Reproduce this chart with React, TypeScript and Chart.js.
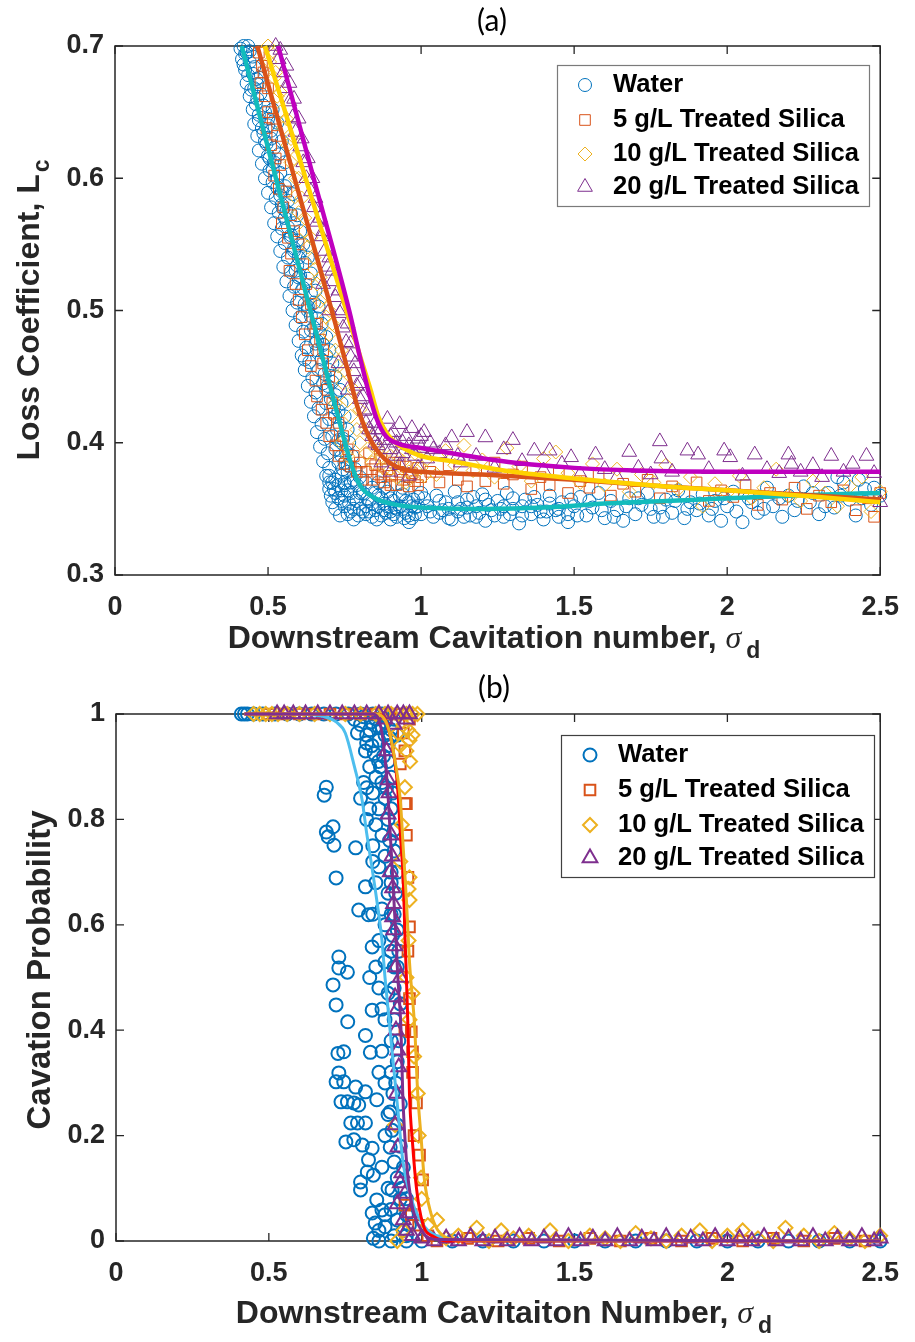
import React, { useEffect, useRef } from 'react';
import { Chart, registerables } from 'chart.js';
import { drawPoint } from 'chart.js/helpers';

Chart.register(...registerables);

type P = [number, number];

const seriesNames = ['Water', '5 g/L Treated Silica', '10 g/L Treated Silica', '20 g/L Treated Silica'];

const xTickValues = [0, 0.5, 1, 1.5, 2, 2.5];
const topYTickValues = [0.3, 0.4, 0.5, 0.6, 0.7];
const bottomYTickValues = [0, 0.2, 0.4, 0.6, 0.8, 1];

// ---------- (a) Loss coefficient ----------
const topWater: P[] = [
  [0.41,0.698],[0.42,0.700],[0.435,0.700],[0.43,0.695],[0.415,0.690],[0.45,0.692],[0.44,0.688],[0.425,0.682],[0.45,0.679],
  [0.47,0.676],[0.462,0.675],[0.43,0.672],[0.455,0.668],[0.44,0.662],[0.465,0.660],[0.485,0.655],[0.45,0.652],[0.47,0.648],
  [0.455,0.641],[0.50,0.640],[0.48,0.638],[0.465,0.632],[0.51,0.630],[0.49,0.628],[0.47,0.621],[0.50,0.617],[0.52,0.612],
  [0.48,0.611],[0.505,0.606],[0.49,0.600],[0.53,0.600],[0.515,0.597],[0.545,0.590],[0.50,0.589],[0.525,0.585],[0.545,0.580],
  [0.51,0.578],[0.56,0.575],[0.535,0.574],[0.555,0.570],[0.52,0.566],[0.545,0.562],[0.575,0.555],[0.53,0.556],[0.555,0.551],
  [0.585,0.545],[0.54,0.545],[0.60,0.540],[0.565,0.540],[0.55,0.533],[0.59,0.530],[0.575,0.529],[0.60,0.525],[0.56,0.522],
  [0.585,0.518],[0.61,0.515],[0.57,0.511],[0.595,0.506],[0.62,0.505],[0.63,0.500],[0.58,0.500],[0.605,0.495],[0.59,0.489],
  [0.64,0.485],[0.615,0.484],[0.60,0.477],[0.655,0.475],[0.625,0.472],[0.66,0.470],[0.61,0.466],[0.62,0.463],[0.635,0.461],
  [0.665,0.455],[0.62,0.455],[0.645,0.449],[0.68,0.445],[0.63,0.443],[0.69,0.440],[0.655,0.438],[0.64,0.431],[0.69,0.430],
  [0.665,0.426],[0.65,0.420],[0.72,0.420],[0.70,0.418],[0.675,0.414],[0.66,0.408],[0.71,0.405],[0.685,0.403],[0.74,0.400],
  [0.67,0.397],[0.72,0.395],[0.695,0.392],[0.68,0.386],[0.75,0.385],[0.73,0.385],[0.70,0.381],[0.69,0.375],[0.74,0.375],
  [0.71,0.370],[0.70,0.365],[0.72,0.362],[0.76,0.378],[0.78,0.372],
  [0.44,0.696],[0.425,0.694],[0.455,0.684],[0.42,0.686],[0.465,0.671],[0.435,0.678],[0.475,0.664],[0.445,0.667],[0.49,0.650],
  [0.46,0.656],[0.5,0.645],[0.47,0.644],[0.51,0.636],[0.485,0.634],[0.52,0.623],[0.495,0.626],[0.535,0.618],[0.505,0.615],
  [0.54,0.604],[0.515,0.607],[0.555,0.594],[0.53,0.593],[0.565,0.583],[0.54,0.587],[0.575,0.573],[0.55,0.577],[0.585,0.566],
  [0.565,0.563],[0.595,0.553],[0.575,0.557],[0.605,0.544],[0.585,0.547],[0.62,0.536],[0.595,0.534],[0.63,0.524],[0.605,0.526],
  [0.64,0.513],[0.615,0.517],[0.65,0.506],[0.63,0.503],[0.66,0.494],[0.64,0.496],[0.67,0.483],[0.65,0.487],[0.68,0.474],
  [0.66,0.477],[0.69,0.466],[0.675,0.463],[0.70,0.455],[0.685,0.452],[0.71,0.446],[0.695,0.443],[0.72,0.436],[0.705,0.433],
  [0.73,0.424],[0.715,0.427],[0.735,0.413],[0.725,0.41],[0.745,0.403],[0.73,0.402],[0.755,0.393],[0.74,0.39],[0.76,0.383],
  [0.745,0.38],[0.77,0.37],[0.75,0.368],
  [0.515,0.652],[0.53,0.642],[0.545,0.628],[0.555,0.612],[0.57,0.598],[0.58,0.588],[0.595,0.572],[0.605,0.56],[0.615,0.55],
  [0.63,0.54],[0.64,0.528],[0.655,0.515],[0.665,0.503],[0.675,0.49],[0.69,0.48],[0.70,0.47],[0.71,0.46],[0.72,0.45],
  [0.735,0.44],[0.74,0.43],[0.75,0.42],[0.76,0.41],[0.765,0.4],[0.775,0.39],[0.785,0.38],
  [0.70,0.370],[0.71,0.355],[0.72,0.350],[0.73,0.368],[0.74,0.356],[0.75,0.352],[0.76,0.364],[0.77,0.348],[0.78,0.358],
  [0.79,0.368],[0.80,0.350],[0.81,0.362],[0.82,0.346],[0.83,0.356],[0.84,0.366],[0.85,0.349],[0.86,0.360],[0.87,0.345],
  [0.88,0.354],[0.89,0.363],[0.90,0.348],[0.91,0.356],[0.92,0.344],[0.93,0.352],[0.94,0.361],[0.95,0.347],[0.96,0.355],
  [0.97,0.343],[0.98,0.351],[0.99,0.359],[1.00,0.346],[0.735,0.345],[0.765,0.354],[0.795,0.345],[0.825,0.358],[0.855,0.342],
  [0.885,0.347],[0.915,0.351],[0.945,0.343],[0.975,0.357],[0.80,0.374],[0.86,0.370],
  [0.72,0.372],[0.705,0.36],[0.715,0.365],[0.73,0.358],[0.74,0.364],[0.75,0.36],[0.76,0.346],[0.77,0.362],[0.78,0.35],
  [0.79,0.356],[0.80,0.362],[0.81,0.348],[0.82,0.352],[0.83,0.348],[0.84,0.354],[0.85,0.362],[0.86,0.352],[0.87,0.358],
  [0.88,0.349],[0.89,0.352],[0.90,0.358],[0.91,0.346],[0.92,0.35],[0.93,0.36],[0.94,0.35],[0.95,0.356],[0.96,0.345],
  [0.97,0.352],[0.98,0.346],[0.99,0.352],[0.78,0.342],[0.84,0.344],[0.90,0.342],[0.96,0.34],[0.82,0.37],[0.88,0.366],
  [0.94,0.366],[1.0,0.362],[0.75,0.37],[0.7,0.375],
  [1.01,0.358],[1.02,0.352],[1.04,0.344],[1.05,0.360],[1.06,0.347],[1.07,0.349],[1.08,0.355],[1.09,0.350],[1.10,0.342],
  [1.11,0.363],[1.12,0.355],[1.13,0.350],[1.14,0.344],[1.15,0.357],[1.16,0.345],[1.17,0.359],[1.18,0.352],[1.19,0.347],
  [1.20,0.361],[1.21,0.341],[1.22,0.353],[1.23,0.349],[1.25,0.356],[1.26,0.350],[1.27,0.344],[1.28,0.362],[1.29,0.346],
  [1.30,0.350],[1.32,0.339],[1.33,0.352],[1.34,0.357],[1.36,0.346],[1.37,0.359],[1.38,0.353],[1.40,0.342],[1.41,0.348],
  [1.42,0.360],[1.44,0.349],[1.45,0.344],[1.46,0.355],[1.48,0.340],[1.49,0.357],[1.50,0.352],[1.52,0.359],[1.54,0.345],
  [1.56,0.351],[1.58,0.362],[1.60,0.343],[1.62,0.356],[1.64,0.349],[1.66,0.341],[1.68,0.358],[1.70,0.346],[1.72,0.353],
  [1.74,0.362],[1.76,0.344],[1.78,0.351],[1.80,0.357],[1.82,0.347],[1.84,0.364],[1.86,0.343],[1.88,0.355],[1.90,0.349],
  [1.92,0.361],[1.94,0.345],[1.96,0.356],[1.98,0.341],[2.00,0.352],[2.02,0.363],[2.05,0.340],[2.07,0.358],[2.10,0.347],
  [2.13,0.366],[2.15,0.352],[2.18,0.344],[2.20,0.360],[2.22,0.349],[2.25,0.367],[2.27,0.355],[2.30,0.346],[2.33,0.362],
  [2.35,0.351],[2.36,0.374],[2.38,0.370],[2.40,0.357],[2.42,0.345],[2.43,0.372],[2.45,0.365],[2.47,0.353],[2.50,0.360],
  [1.03,0.348],[1.06,0.356],[1.09,0.343],[1.12,0.348],[1.15,0.351],[1.18,0.344],[1.21,0.357],[1.24,0.345],[1.27,0.352],
  [1.3,0.358],[1.33,0.345],[1.36,0.352],[1.39,0.348],[1.42,0.354],[1.45,0.35],[1.48,0.346],[1.51,0.345],[1.55,0.356],
  [1.59,0.349],[1.63,0.344],[1.67,0.352],[1.71,0.358],[1.75,0.35],[1.79,0.344],[1.83,0.356],[1.87,0.35],[1.91,0.354],
  [1.95,0.35],[1.99,0.358],[2.03,0.348],[2.08,0.355],[2.12,0.35],[2.17,0.358],[2.23,0.356],[2.28,0.362],[2.32,0.352],
  [2.37,0.36],[2.44,0.358],[2.48,0.366]
];

const topSilica5: P[] = [
  [0.47,0.695],[0.48,0.685],[0.475,0.672],[0.49,0.662],[0.50,0.650],[0.495,0.638],[0.51,0.625],[0.525,0.615],[0.52,0.602],
  [0.535,0.592],[0.55,0.578],[0.545,0.566],[0.565,0.555],[0.575,0.543],[0.57,0.530],[0.59,0.520],[0.60,0.508],[0.61,0.495],
  [0.62,0.482],[0.66,0.490],[0.63,0.470],[0.68,0.470],[0.64,0.458],[0.70,0.450],[0.655,0.447],[0.66,0.435],[0.715,0.422],
  [0.675,0.425],[0.69,0.415],[0.70,0.405],[0.72,0.398],[0.73,0.390],[0.75,0.384],[0.77,0.382],
  [0.485,0.680],[0.50,0.668],[0.515,0.645],[0.53,0.632],[0.54,0.61],[0.56,0.59],[0.575,0.572],[0.585,0.56],[0.60,0.55],
  [0.615,0.535],[0.625,0.52],[0.64,0.505],[0.655,0.49],[0.67,0.478],[0.68,0.46],[0.695,0.44],[0.71,0.43],[0.73,0.415],
  [0.745,0.405],[0.76,0.395],[0.79,0.378],[0.81,0.372],[0.84,0.38],[0.87,0.374],[0.9,0.368],[0.93,0.385],[0.96,0.374],
  [0.99,0.368],
  [0.78,0.390],[0.80,0.385],[0.82,0.378],[0.83,0.392],[0.84,0.372],[0.85,0.383],[0.86,0.376],[0.87,0.388],[0.88,0.370],
  [0.89,0.380],[0.90,0.375],[0.91,0.385],[0.92,0.368],[0.93,0.378],[0.94,0.372],[0.95,0.382],[0.96,0.367],[0.97,0.377],
  [0.98,0.371],[0.99,0.381],[1.00,0.374],
  [1.03,0.378],[1.06,0.370],[1.09,0.383],[1.12,0.372],[1.15,0.367],[1.18,0.379],[1.21,0.371],[1.24,0.385],[1.27,0.369],
  [1.30,0.376],[1.33,0.382],[1.36,0.365],[1.39,0.374],[1.42,0.368],[1.45,0.378],[1.48,0.362],[1.52,0.371],[1.55,0.366],
  [1.58,0.375],[1.62,0.360],[1.66,0.369],[1.70,0.363],[1.74,0.372],[1.78,0.358],[1.82,0.367],[1.86,0.361],[1.90,0.370],
  [1.94,0.356],[1.98,0.364],[2.02,0.359],[2.06,0.368],[2.10,0.353],[2.14,0.362],[2.18,0.357],[2.22,0.366],[2.26,0.350],
  [2.30,0.360],[2.34,0.355],[2.38,0.364],[2.42,0.349],[2.46,0.358],[2.48,0.344],[2.50,0.362]
];

const topSilica10: P[] = [
  [0.50,0.700],[0.505,0.688],[0.52,0.676],[0.53,0.662],[0.54,0.650],[0.55,0.638],[0.565,0.625],[0.575,0.612],[0.59,0.600],
  [0.588,0.586],[0.60,0.574],[0.62,0.560],[0.63,0.548],[0.652,0.531],[0.66,0.520],[0.67,0.507],[0.69,0.495],[0.70,0.482],
  [0.72,0.470],[0.73,0.458],[0.745,0.445],[0.76,0.432],[0.72,0.430],[0.77,0.420],[0.79,0.410],[0.74,0.400],[0.80,0.400],
  [0.76,0.390],[0.82,0.392],[0.84,0.385],
  [0.51,0.695],[0.525,0.68],[0.54,0.665],[0.56,0.645],[0.575,0.63],[0.585,0.615],[0.6,0.6],[0.61,0.585],[0.62,0.57],
  [0.64,0.555],[0.65,0.54],[0.67,0.525],[0.68,0.51],[0.7,0.5],[0.71,0.49],[0.74,0.47],[0.75,0.455],[0.78,0.44],[0.80,0.425],
  [0.82,0.41],[0.85,0.4],[0.87,0.39],[0.9,0.38],[0.92,0.39],[0.95,0.37],[0.98,0.38],[1.01,0.375],
  [0.86,0.395],[0.88,0.380],[0.90,0.390],[0.92,0.374],[0.94,0.386],[0.96,0.378],[0.98,0.392],[1.00,0.381],[1.02,0.388],
  [1.05,0.376],[1.08,0.394],[1.11,0.383],[1.14,0.398],[1.17,0.379],[1.20,0.387],[1.24,0.374],[1.28,0.396],[1.32,0.382],
  [1.36,0.371],[1.40,0.388],[1.44,0.393],[1.48,0.377],[1.52,0.370],[1.56,0.384],[1.60,0.368],[1.64,0.380],[1.68,0.363],
  [1.72,0.376],[1.76,0.370],[1.80,0.383],[1.84,0.365],[1.88,0.374],[1.92,0.352],[1.96,0.369],[2.00,0.362],[2.04,0.375],
  [2.08,0.358],[2.12,0.366],[2.16,0.380],[2.20,0.360],[2.24,0.356],[2.28,0.371],[2.32,0.362],[2.36,0.352],[2.40,0.367],
  [2.44,0.374],[2.47,0.348],[2.50,0.363]
];

const topSilica20: P[] = [
  [0.525,0.700],[0.535,0.690],[0.55,0.680],[0.555,0.668],[0.57,0.658],[0.58,0.646],[0.59,0.635],[0.605,0.624],[0.615,0.612],
  [0.625,0.600],[0.64,0.590],[0.65,0.578],[0.66,0.567],[0.675,0.556],[0.685,0.545],[0.695,0.533],[0.68,0.520],[0.71,0.522],
  [0.72,0.510],[0.70,0.500],[0.735,0.498],[0.745,0.487],[0.755,0.476],[0.77,0.465],[0.73,0.460],[0.78,0.454],[0.79,0.443],
  [0.76,0.440],[0.80,0.433],[0.815,0.424],[0.82,0.415],[0.83,0.410],
  [0.54,0.697],[0.56,0.685],[0.57,0.672],[0.585,0.66],[0.6,0.645],[0.61,0.63],[0.63,0.615],[0.645,0.6],[0.655,0.585],
  [0.67,0.57],[0.68,0.56],[0.70,0.54],[0.71,0.53],[0.73,0.515],[0.74,0.5],[0.76,0.49],[0.77,0.475],[0.785,0.46],[0.80,0.445],
  [0.81,0.435],[0.83,0.425],[0.85,0.4],[0.86,0.41],[0.88,0.395],[0.9,0.405],[0.92,0.39],[0.94,0.4],[0.97,0.395],[1.0,0.405],
  [1.04,0.395],[1.08,0.398],[1.12,0.39],
  [0.84,0.405],[0.85,0.415],[0.86,0.398],[0.87,0.410],[0.88,0.402],[0.89,0.418],[0.90,0.395],[0.91,0.408],[0.92,0.400],
  [0.93,0.414],[0.94,0.392],[0.95,0.405],[0.96,0.398],[0.97,0.411],[0.98,0.390],[0.99,0.403],[1.00,0.396],[1.01,0.408],
  [1.02,0.388],[1.03,0.400],[0.87,0.385],[0.90,0.378],[0.93,0.383],[0.96,0.375],[0.99,0.381],
  [1.06,0.392],[1.10,0.404],[1.13,0.385],[1.15,0.408],[1.18,0.390],[1.21,0.404],[1.24,0.381],[1.27,0.395],[1.30,0.402],
  [1.33,0.386],[1.37,0.394],[1.40,0.379],[1.42,0.394],[1.46,0.384],[1.49,0.389],[1.52,0.376],[1.57,0.391],[1.60,0.380],
  [1.64,0.374],[1.68,0.393],[1.71,0.381],[1.75,0.376],[1.78,0.401],[1.785,0.388],[1.82,0.378],[1.87,0.394],[1.905,0.391],
  [1.94,0.380],[1.99,0.394],[2.01,0.389],[2.05,0.375],[2.09,0.391],[2.13,0.380],[2.17,0.377],[2.20,0.391],[2.21,0.384],
  [2.24,0.378],[2.28,0.383],[2.31,0.374],[2.34,0.390],[2.38,0.378],[2.41,0.384],[2.455,0.390],[2.48,0.377],[2.50,0.355]
];

const topWaterFit: P[] = [
  [0.414,0.7],[0.5,0.623],[0.6,0.534],[0.7,0.445],[0.74,0.41],[0.77,0.385],[0.8,0.368],[0.85,0.358],[0.9,0.354],
  [1.0,0.351],[1.2,0.35],[1.4,0.351],[1.6,0.354],[1.8,0.356],[2.0,0.358],[2.2,0.36],[2.5,0.362]
];
const topSilica5Fit: P[] = [
  [0.465,0.7],[0.55,0.63],[0.65,0.548],[0.72,0.49],[0.76,0.455],[0.795,0.425],[0.835,0.402],[0.88,0.388],[0.94,0.38],
  [1.0,0.378],[1.2,0.376],[1.5,0.372],[1.8,0.367],[2.0,0.364],[2.3,0.36],[2.5,0.357]
];
const topSilica10Fit: P[] = [
  [0.49,0.7],[0.6,0.617],[0.7,0.542],[0.76,0.497],[0.8,0.466],[0.835,0.44],[0.86,0.42],[0.895,0.405],[0.95,0.395],
  [1.0,0.39],[1.1,0.386],[1.3,0.378],[1.5,0.373],[1.8,0.367],[2.0,0.364],[2.3,0.359],[2.5,0.355]
];
const topSilica20Fit: P[] = [
  [0.533,0.7],[0.649,0.6],[0.765,0.5],[0.80,0.465],[0.83,0.437],[0.855,0.418],[0.885,0.405],[0.93,0.399],[1.0,0.396],
  [1.1,0.392],[1.3,0.385],[1.5,0.381],[1.7,0.379],[2.0,0.378],[2.5,0.378]
];

// ---------- (b) Cavitation probability ----------
const bottomWater: P[] = [
  [0.41,1],[0.42,1],[0.43,1],[0.45,1],[0.48,1],[0.52,1],[0.56,1],[0.6,1],[0.64,1],[0.68,1],[0.72,1],[0.76,1],[0.8,1],[0.84,1],[0.87,1],
  [0.79,0.964],[0.80,0.98],[0.816,0.93],[0.82,0.96],[0.83,0.97],[0.837,0.94],[0.85,0.99],[0.859,0.91],[0.86,0.95],[0.87,0.975],
  [0.875,0.92],[0.88,0.96],[0.89,0.94],[0.9,0.97],[0.83,0.9],[0.85,0.88],[0.87,0.87],[0.81,0.87],[0.84,0.85],[0.88,0.84],
  [0.86,0.82],[0.82,0.8],[0.85,0.79],[0.89,0.8],[0.87,0.77],[0.84,0.75],[0.88,0.73],[0.86,0.71],[0.9,0.7],[0.85,0.68],
  [0.89,0.66],[0.87,0.63],[0.84,0.62],[0.88,0.6],[0.91,0.62],[0.86,0.57],[0.9,0.55],[0.88,0.53],[0.92,0.52],[0.91,0.48],
  [0.78,0.99],[0.81,0.995],[0.835,0.985],[0.86,0.975],[0.88,0.985],[0.895,0.955],[0.91,0.99],[0.92,0.96],[0.82,0.945],
  [0.845,0.925],[0.865,0.9],[0.89,0.91],[0.9,0.88],[0.905,0.85],[0.885,0.86],[0.9,0.82],[0.91,0.78],[0.895,0.76],[0.91,0.74],
  [0.92,0.7],[0.9,0.68],[0.915,0.66],[0.9,0.62],[0.92,0.59],[0.905,0.58],[0.925,0.55],[0.91,0.52],[0.93,0.45],[0.91,0.42],
  [0.925,0.38],[0.92,0.34],[0.915,0.3],[0.93,0.26],[0.92,0.22],[0.93,0.18],[0.94,0.14],[0.935,0.1],[0.95,0.08],[0.95,0.01],
  [0.96,0.03],[0.89,0.1],[0.87,0.14],[0.88,0.2],[0.89,0.24],[0.88,0.3],[0.86,0.32],[0.87,0.36],[0.86,0.48],[0.83,0.5],
  [0.85,0.52],[0.84,0.72],[0.83,0.82],[0.8,0.84],[0.82,0.86],
  [0.688,0.861],[0.681,0.846],[0.71,0.786],[0.688,0.776],[0.694,0.767],[0.713,0.751],[0.784,0.746],[0.72,0.689],[0.816,0.672],
  [0.794,0.628],[0.826,0.619],[0.838,0.558],[0.729,0.539],[0.729,0.518],[0.757,0.51],[0.71,0.486],[0.72,0.448],[0.758,0.416],
  [0.838,0.438],[0.816,0.39],[0.832,0.358],[0.726,0.356],[0.745,0.359],[0.729,0.319],[0.72,0.302],[0.745,0.302],[0.784,0.292],
  [0.816,0.283],[0.736,0.264],[0.757,0.264],[0.778,0.262],[0.794,0.258],[0.853,0.268],[0.768,0.224],[0.79,0.224],[0.816,0.224],
  [0.752,0.188],[0.778,0.192],[0.806,0.182],[0.838,0.176],[0.826,0.154],[0.822,0.131],[0.842,0.125],[0.80,0.112],[0.80,0.097],
  [0.853,0.078],[0.838,0.053],[0.87,0.059],[0.848,0.034],[0.88,0.027],[0.842,0.005],
  [0.903,0.097],[0.897,0.178],[0.903,0.21],[0.897,0.245],[0.906,0.28],[0.9,0.32],[0.88,0.42],[0.9,0.38],[0.87,0.44],[0.89,0.47],
  [0.91,0.15],[0.92,0.12],[0.90,0.06],[0.92,0.04],[0.94,0.02],[0.86,0.02],[0.88,0.05],[0.93,0.08],[0.91,0.01],[0.95,0.05],
  [0.86,0],[0.9,0],[0.95,0],[1.0,0],[1.1,0],[1.2,0],[1.3,0],[1.4,0],[1.5,0],[1.6,0],[1.7,0],[1.8,0],[1.9,0],[2.0,0],
  [2.1,0],[2.2,0],[2.3,0],[2.4,0],[2.5,0]
];

const bottomSilica5: P[] = [
  [0.5,1],[0.55,1],[0.6,1],[0.65,1],[0.7,1],[0.75,1],[0.8,1],[0.85,1],[0.9,1],[0.93,1],[0.95,1],[0.96,0.99],
  [0.94,0.964],[0.945,0.93],[0.93,0.905],[0.95,0.83],[0.945,0.83],[0.95,0.77],[0.955,0.69],[0.96,0.596],[0.955,0.55],
  [0.96,0.46],[0.945,0.40],[0.966,0.397],[0.97,0.359],[0.97,0.32],[0.983,0.262],[0.975,0.2],[0.993,0.163],[1.003,0.116],
  [0.945,0.068],[0.966,0.05],[0.99,0.03],[1.02,0.01],
  [1.05,0],[1.15,0.005],[1.25,0],[1.35,0.005],[1.45,0],[1.55,0.005],[1.65,0],[1.75,0.005],[1.85,0],[1.95,0.005],
  [2.05,0],[2.15,0.005],[2.25,0],[2.35,0.005],[2.45,0]
];

const bottomSilica10: P[] = [
  [0.45,1],[0.47,1],[0.49,1],[0.51,1],[0.53,1],[0.56,1],[0.6,1],[0.65,1],[0.7,1],[0.75,1],[0.8,1],[0.85,1],[0.88,1],
  [0.9,1],[0.92,1],[0.95,1],[0.97,1],[0.986,1],[0.94,0.98],[0.955,0.97],[0.96,0.95],[0.95,0.93],[0.962,0.91],[0.97,0.96],
  [0.922,0.964],[0.93,0.94],[0.945,0.861],[0.935,0.79],[0.93,0.72],[0.96,0.69],[0.957,0.668],[0.96,0.647],[0.957,0.57],
  [0.95,0.5],[0.97,0.47],[0.96,0.42],[0.975,0.35],[0.987,0.28],[0.913,0.22],[0.99,0.2],[0.998,0.12],[1.0,0.08],
  [1.02,0.03],[1.05,0.04],[0.92,0],[0.94,0.02],
  [1.08,0.005],[1.12,0.01],[1.18,0.025],[1.22,0],[1.26,0.02],[1.3,0.005],[1.35,0.01],[1.42,0.02],[1.48,0],[1.55,0.01],
  [1.6,0.005],[1.65,0],[1.7,0.015],[1.75,0.005],[1.8,0],[1.85,0.01],[1.91,0.02],[1.95,0],[2.0,0.01],[2.05,0.02],
  [2.1,0.005],[2.15,0],[2.19,0.025],[2.25,0.01],[2.3,0],[2.35,0.015],[2.4,0.005],[2.45,0],[2.5,0.01]
];

const bottomSilica20: P[] = [
  [0.527,1],[0.55,1],[0.58,1],[0.62,1],[0.66,1],[0.7,1],[0.74,1],[0.78,1],[0.82,1],[0.86,1],[0.89,1],[0.92,1],[0.94,1],
  [0.96,1],[0.95,0.99],[0.91,0.98],[0.88,0.99],
  [0.885,0.93],[0.89,0.875],[0.893,0.85],[0.89,0.81],[0.90,0.77],[0.903,0.73],[0.897,0.70],[0.905,0.67],[0.908,0.64],
  [0.905,0.615],[0.909,0.59],[0.912,0.56],[0.915,0.52],[0.93,0.5],[0.913,0.463],[0.92,0.44],[0.916,0.40],[0.922,0.362],
  [0.925,0.33],[0.918,0.28],[0.913,0.22],[0.922,0.178],[0.935,0.129],[0.93,0.11],[0.945,0.09],[0.92,0.07],[0.96,0.053],
  [0.94,0.04],[0.95,0.02],[0.97,0.01],
  [1.0,0.005],[1.04,0],[1.08,0.005],[1.12,0],[1.16,0.008],[1.2,0],[1.24,0.005],[1.28,0],[1.32,0.008],[1.36,0],[1.4,0.005],
  [1.44,0],[1.48,0.008],[1.52,0],[1.56,0.005],[1.6,0],[1.64,0.008],[1.68,0],[1.72,0.005],[1.76,0],[1.8,0.008],[1.84,0],
  [1.88,0.005],[1.92,0],[1.96,0.008],[2.0,0],[2.04,0.005],[2.08,0],[2.12,0.008],[2.16,0],[2.2,0.005],[2.24,0],[2.28,0.008],
  [2.32,0],[2.36,0.005],[2.4,0],[2.44,0.008],[2.48,0],[2.5,0.005]
];

const bottomWaterFit: P[] = [
  [0.42,1],[0.6,1],[0.68,0.995],[0.72,0.985],[0.75,0.964],[0.78,0.90],[0.805,0.837],[0.82,0.774],[0.837,0.71],[0.853,0.647],
  [0.87,0.57],[0.88,0.5],[0.89,0.44],[0.906,0.343],[0.922,0.249],[0.938,0.154],[0.967,0.078],[1.01,0.027],[1.06,0.008],
  [1.2,0],[2.5,0]
];
const bottomSilica5Fit: P[] = [
  [0.42,1],[0.85,1],[0.88,0.99],[0.90,0.95],[0.92,0.87],[0.93,0.774],[0.94,0.68],[0.945,0.584],[0.95,0.50],[0.955,0.406],
  [0.96,0.28],[0.97,0.186],[0.983,0.10],[1.003,0.034],[1.04,0.008],[1.1,0],[2.5,0]
];
const bottomSilica10Fit: P[] = [
  [0.42,1],[0.85,1],[0.89,0.975],[0.913,0.91],[0.93,0.837],[0.94,0.742],[0.95,0.647],[0.96,0.53],[0.977,0.406],[0.987,0.28],
  [0.998,0.197],[1.008,0.121],[1.03,0.053],[1.06,0.015],[1.12,0.002],[2.5,0]
];
const bottomSilica20Fit: P[] = [
  [0.42,1],[0.84,1],[0.87,0.964],[0.887,0.87],[0.897,0.774],[0.906,0.68],[0.915,0.584],[0.922,0.50],[0.932,0.406],
  [0.938,0.28],[0.95,0.154],[0.967,0.072],[1.0,0.02],[1.05,0.003],[2.5,0]
];

// ---------- styling ----------
const SANS = 'Arial, "Liberation Sans", Helvetica, sans-serif';
const SERIF = '"Liberation Serif", "DejaVu Serif", serif';
const AXIS_COLOR = '#262626';

type Part = { t: string; font: string; dx?: number; dy?: number };
type Marker = { style: string; color: string; r: number; bw: number };

interface Spec {
  height: number; offsetTop: number;
  padTop: number; padRight: number; yWidth: number; xHeight: number;
  yMin: number; yMax: number; yTicks: number[];
  title: { text: string; x: number; y: number };
  xTitle: { parts: Part[]; cx: number; base: number };
  yTitle: { parts: Part[]; cy: number; base: number };
  legend: { x: number; y: number; w: number; h: number; rows: number[]; markerX: number; textX: number; border: string };
  markers: Marker[]; lineColors: string[]; lineWidth: number;
  scatter: P[][]; fits: P[][];
}

function drawParts(ctx: CanvasRenderingContext2D, parts: Part[], cx: number, base: number) {
  let total = 0;
  for (const p of parts) { ctx.font = p.font; total += ctx.measureText(p.t).width + (p.dx || 0); }
  let x = cx - total / 2;
  ctx.textAlign = 'left';
  ctx.textBaseline = 'alphabetic';
  for (const p of parts) {
    ctx.font = p.font;
    x += p.dx || 0;
    ctx.fillText(p.t, x, base + (p.dy || 0));
    x += ctx.measureText(p.t).width;
  }
}

function makeDecor(spec: Spec) {
  return {
    id: 'decor',
    beforeDatasetsDraw(chart: any) {
      const { ctx, chartArea: a, scales } = chart;
      ctx.save();
      ctx.strokeStyle = AXIS_COLOR;
      ctx.lineWidth = 1.5;
      ctx.strokeRect(a.left, a.top, a.right - a.left, a.bottom - a.top);
      ctx.lineWidth = 1.3;
      ctx.beginPath();
      for (const v of xTickValues) {
        const px = scales.x.getPixelForValue(v);
        ctx.moveTo(px, a.bottom); ctx.lineTo(px, a.bottom - 8);
        ctx.moveTo(px, a.top); ctx.lineTo(px, a.top + 8);
      }
      for (const v of spec.yTicks) {
        const py = scales.y.getPixelForValue(v);
        ctx.moveTo(a.left, py); ctx.lineTo(a.left + 8, py);
        ctx.moveTo(a.right, py); ctx.lineTo(a.right - 8, py);
      }
      ctx.stroke();
      ctx.restore();
    },
    afterDraw(chart: any) {
      const { ctx } = chart;
      ctx.save();
      ctx.fillStyle = '#000';
      ctx.font = '30px Lato, "Open Sans", sans-serif';
      ctx.textAlign = 'center';
      ctx.textBaseline = 'middle';
      ctx.fillText(spec.title.text, spec.title.x, spec.title.y);
      ctx.fillStyle = AXIS_COLOR;
      drawParts(ctx, spec.xTitle.parts, spec.xTitle.cx, spec.xTitle.base);
      ctx.save();
      ctx.translate(spec.yTitle.base, spec.yTitle.cy);
      ctx.rotate(-Math.PI / 2);
      drawParts(ctx, spec.yTitle.parts, 0, 0);
      ctx.restore();
      const L = spec.legend;
      ctx.fillStyle = '#fff';
      ctx.fillRect(L.x, L.y, L.w, L.h);
      ctx.strokeStyle = L.border;
      ctx.lineWidth = 1.2;
      ctx.strokeRect(L.x + 0.5, L.y + 0.5, L.w, L.h);
      spec.markers.forEach((m, i) => {
        const y = L.rows[i];
        ctx.save();
        ctx.strokeStyle = m.color;
        ctx.fillStyle = 'rgba(0,0,0,0)';
        ctx.lineWidth = m.bw;
        drawPoint(ctx, { pointStyle: m.style as any, radius: m.r, rotation: 0, borderWidth: m.bw }, L.markerX, y);
        ctx.restore();
        ctx.fillStyle = '#000';
        ctx.font = 'bold 25.6px ' + SANS;
        ctx.textAlign = 'left';
        ctx.textBaseline = 'middle';
        ctx.fillText(seriesNames[i], L.textX, y);
      });
      ctx.restore();
    }
  };
}

function buildConfig(spec: Spec): any {
  const datasets: any[] = [];
  spec.scatter.forEach((pts, i) => {
    const m = spec.markers[i];
    datasets.push({
      label: seriesNames[i],
      data: pts.map(([x, y]) => ({ x, y })),
      showLine: false,
      pointStyle: m.style,
      pointRadius: m.r,
      pointBorderWidth: m.bw,
      pointBorderColor: m.color,
      pointBackgroundColor: 'rgba(0,0,0,0)',
      borderColor: m.color,
      backgroundColor: 'rgba(0,0,0,0)',
      clip: false,
      order: 10 - i
    });
  });
  spec.fits.forEach((pts, i) => {
    datasets.push({
      label: seriesNames[i] + ' fit',
      data: pts.map(([x, y]) => ({ x, y })),
      showLine: true,
      pointRadius: 0,
      borderColor: spec.lineColors[i],
      borderWidth: spec.lineWidth,
      cubicInterpolationMode: 'monotone',
      fill: false,
      clip: false,
      order: 4 - i
    });
  });
  const tickFont = { family: SANS, size: 27, weight: 'bold' as const };
  return {
    type: 'scatter',
    data: { datasets },
    options: {
      animation: false,
      responsive: false,
      events: [],
      layout: { padding: { top: spec.padTop, right: spec.padRight, left: 0, bottom: 0 } },
      plugins: { legend: { display: false }, tooltip: { enabled: false }, title: { display: false } },
      scales: {
        x: {
          type: 'linear', min: 0, max: 2.5,
          afterBuildTicks: (s: any) => { s.ticks = xTickValues.map((v) => ({ value: v })); },
          afterFit: (s: any) => { s.height = spec.xHeight; },
          grid: { display: false, drawTicks: false, tickLength: 0 },
          border: { display: false },
          ticks: { font: tickFont, color: AXIS_COLOR, padding: 16, maxRotation: 0, autoSkip: false, callback: (v: any) => String(v) }
        },
        y: {
          type: 'linear', min: spec.yMin, max: spec.yMax,
          afterBuildTicks: (s: any) => { s.ticks = spec.yTicks.map((v) => ({ value: v })); },
          afterFit: (s: any) => { s.width = spec.yWidth; },
          grid: { display: false, drawTicks: false, tickLength: 0 },
          border: { display: false },
          ticks: { font: tickFont, color: AXIS_COLOR, padding: 11, autoSkip: false, callback: (v: any) => String(v) }
        }
      }
    },
    plugins: [makeDecor(spec)]
  };
}

const topSpec: Spec = {
  height: 660, offsetTop: 0,
  padTop: 46, padRight: 26, yWidth: 115, xHeight: 85,
  yMin: 0.3, yMax: 0.7, yTicks: topYTickValues,
  title: { text: '(a)', x: 492, y: 21 },
  xTitle: {
    parts: [
      { t: 'Downstream Cavitation number, ', font: 'bold 32px ' + SANS },
      { t: 'σ', font: 'italic 32px ' + SERIF },
      { t: 'd', font: 'bold 23px ' + SANS, dx: 5, dy: 10 }
    ], cx: 494, base: 648
  },
  yTitle: {
    parts: [
      { t: 'Loss Coefficient, L', font: 'bold 32px ' + SANS },
      { t: 'c', font: 'bold 23px ' + SANS, dx: 2, dy: 10 }
    ], cy: 310, base: 39
  },
  legend: { x: 557, y: 65, w: 312, h: 141, rows: [85, 120, 154, 187], markerX: 585, textX: 613, border: '#7a7a7a' },
  markers: [
    { style: 'circle', color: '#0072BD', r: 6.5, bw: 1 },
    { style: 'rect', color: '#D95319', r: 7.5, bw: 1 },
    { style: 'rectRot', color: '#EDB120', r: 7, bw: 1 },
    { style: 'triangle', color: '#7E2F8E', r: 8.5, bw: 1 }
  ],
  lineColors: ['#12BCBC', '#D95319', '#FFD200', '#BF00BF'],
  lineWidth: 4.5,
  scatter: [topWater, topSilica5, topSilica10, topSilica20],
  fits: [topWaterFit, topSilica5Fit, topSilica10Fit, topSilica20Fit]
};

const bottomSpec: Spec = {
  height: 682, offsetTop: 660,
  padTop: 54, padRight: 21, yWidth: 116, xHeight: 101,
  yMin: 0, yMax: 1, yTicks: bottomYTickValues,
  title: { text: '(b)', x: 494, y: 28 },
  xTitle: {
    parts: [
      { t: 'Downstream Cavitaiton Number, ', font: 'bold 32px ' + SANS },
      { t: 'σ', font: 'italic 32px ' + SERIF },
      { t: 'd', font: 'bold 23px ' + SANS, dx: 5, dy: 10 }
    ], cx: 504, base: 663
  },
  yTitle: {
    parts: [{ t: 'Cavation Probability', font: 'bold 33px ' + SANS }],
    cy: 310, base: 50
  },
  legend: { x: 561, y: 75, w: 313, h: 142, rows: [95, 130, 165, 198], markerX: 590, textX: 618, border: '#404040' },
  markers: [
    { style: 'circle', color: '#0072BD', r: 6.5, bw: 2 },
    { style: 'rect', color: '#D95319', r: 7.5, bw: 2 },
    { style: 'rectRot', color: '#EDB120', r: 7, bw: 2 },
    { style: 'triangle', color: '#7E2F8E', r: 8.5, bw: 2 }
  ],
  lineColors: ['#4DBEEE', '#FF0000', '#EDB120', '#7E2F8E'],
  lineWidth: 3,
  scatter: [bottomWater, bottomSilica5, bottomSilica10, bottomSilica20],
  fits: [bottomWaterFit, bottomSilica5Fit, bottomSilica10Fit, bottomSilica20Fit]
};

function Panel({ spec }: { spec: Spec }) {
  const ref = useRef<HTMLCanvasElement>(null);
  useEffect(() => {
    if (!ref.current) return;
    const chart = new Chart(ref.current, buildConfig(spec));
    return () => chart.destroy();
  }, [spec]);
  return (
    <canvas
      ref={ref}
      width={915}
      height={spec.height}
      style={{ position: 'absolute', left: 0, top: spec.offsetTop, width: 915, height: spec.height, display: 'block' }}
    />
  );
}

export default function App() {
  return (
    <div style={{ position: 'absolute', left: 0, top: 0, width: 915, height: 1342, background: '#fff' }}>
      <Panel spec={topSpec} />
      <Panel spec={bottomSpec} />
    </div>
  );
}
